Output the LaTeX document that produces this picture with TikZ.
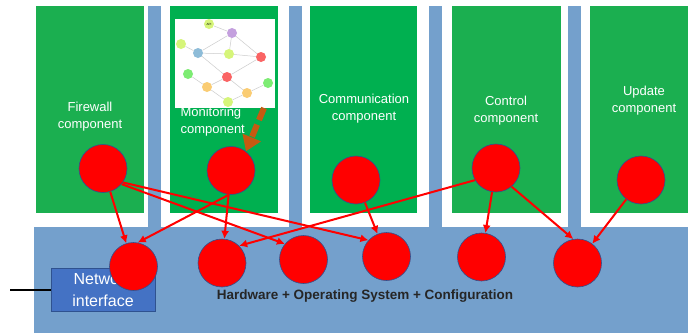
\documentclass[tikz,border=0pt]{standalone}
\usepackage{fontspec}
\setmainfont{Liberation Sans}
\usetikzlibrary{arrows.meta}

\definecolor{compgreen}{RGB}{0,176,80}
\definecolor{compgreenl}{RGB}{27,175,80}
\definecolor{osblue}{RGB}{116,160,204}
\definecolor{netblue}{RGB}{68,114,196}
\definecolor{ringblue}{RGB}{47,82,143}
\definecolor{feedorange}{RGB}{197,90,17}
\definecolor{darktext}{RGB}{38,38,38}
\definecolor{glime}{RGB}{214,245,122}
\definecolor{gpurple}{RGB}{196,160,222}
\definecolor{gblue}{RGB}{142,188,216}
\definecolor{gred}{RGB}{250,100,100}
\definecolor{ggreen}{RGB}{125,236,115}
\definecolor{gorange}{RGB}{250,204,115}

\tikzset{
  proc/.style={circle, fill=red, draw=ringblue, line width=0.6pt, minimum size=48pt, inner sep=0pt},
  call/.style={->, red, line width=2pt},
  comptext/.style={white, align=center, font=\fontsize{13}{17}\selectfont},
  gnode/.style={circle, minimum size=10pt, inner sep=0pt, font=\fontsize{3}{3}\selectfont},
  gedge/.style={gray!40, line width=0.5pt},
}

\begin{document}
\begin{tikzpicture}[x=1pt,y=-1pt,>={Latex[length=8pt,width=8pt]}]
  \useasboundingbox (0,0) rectangle (688,335);

  % components and the layer under them
  \foreach \xa/\xb/\col in {36/144/compgreenl,170/278/compgreen,310/417/compgreen,452/561/compgreenl,590/688/compgreenl}{
    \fill[\col] (\xa,6) rectangle (\xb,213);
  }
  \foreach \xa in {148,289,429,568}{
    \fill[osblue] (\xa,6) rectangle ++(13,221);
  }
  \fill[osblue] (34,227) rectangle (688,333);

  % little graph view inside the monitoring box
  \fill[white] (175,19) rectangle (275,108);
  \foreach \n/\x/\y/\c in {api/209/24/glime, gp/232/33/gpurple, gl1/181/44/glime, gb/198/53/gblue,
                           gl2/229/54/glime, gr1/261/57/gred, gg1/188/74/ggreen, gr2/227/77/gred,
                           go1/207/87/gorange, go2/247/93/gorange, gg2/268/83/ggreen, gl3/228/102/glime}{
    \node[gnode,fill=\c] (\n) at (\x,\y) {};
  }
  \node[font=\fontsize{3}{3}\selectfont] at (api) {API};
  \foreach \a/\b in {api/gp, gl1/gb, gb/gp, gb/gl2, gp/gl2, gp/gr1, gl2/gr1, gb/gr2, gr2/gr1,
                     gg1/go1, go1/gr2, go1/gl3, gr2/go2, gl3/go2, go2/gg2}{
    \draw[gedge] (\a) -- (\b);
  }

  % labels
  \node[comptext] (fwtext) at (90,117) {Firewall\\component};
  \node[comptext,align=left,anchor=west] (montext) at (177,122) {Monitoring\\component};
  \node[comptext] (comtext) at (364,109) {Communication\\component};
  \node[comptext] (ctltext) at (506,111) {Control\\component};
  \node[comptext] (updtext) at (644,101) {Update\\component};
  \node[text=darktext,font=\bfseries\fontsize{13.5}{16}\selectfont] (ostext) at (365,296) {Hardware + Operating System + Configuration};

  % network interface
  \node[fill=netblue, draw=ringblue, line width=0.4pt, minimum width=104pt, minimum height=43pt, inner sep=0pt,
        text=white, align=center, font=\fontsize{16}{22}\selectfont] (net) at (103,289.5) {Network\\interface};
  \coordinate (wire) at (10,289.5);
  \draw[line width=2pt] (wire) -- (net.west);

  % processes
  \foreach \n/\x/\y in {pfw/103/168.5, pmon/231/170.5, pcom/356/180, pctl/496/168, pupd/641/180,
                        os1/133.5/266.5, os2/222/263, os3/303.5/259.5, os4/386.5/256.5, os5/481.5/257, os6/577.5/263}{
    \node[proc] (\n) at (\x,\y) {};
  }

  % calls into the lower layer
  \foreach \a/\b in {pfw/os1, pfw.-40/os3.140, pfw.-35/os4.138, pmon.-95/os1.80, pmon/os2,
                     pcom/os4, pctl.210/os2.45, pctl/os5, pctl.-50/os6.100, pupd/os6}{
    \draw[call] (\a) -- (\b);
  }

  % feed from the graph view
  \coordinate (feed) at (264,108);
  \draw[feedorange, line width=6pt, dash pattern=on 13pt off 5pt, -{Triangle[length=15pt,width=19pt]}] (feed) -- (pmon.52);
\end{tikzpicture}
\end{document}
